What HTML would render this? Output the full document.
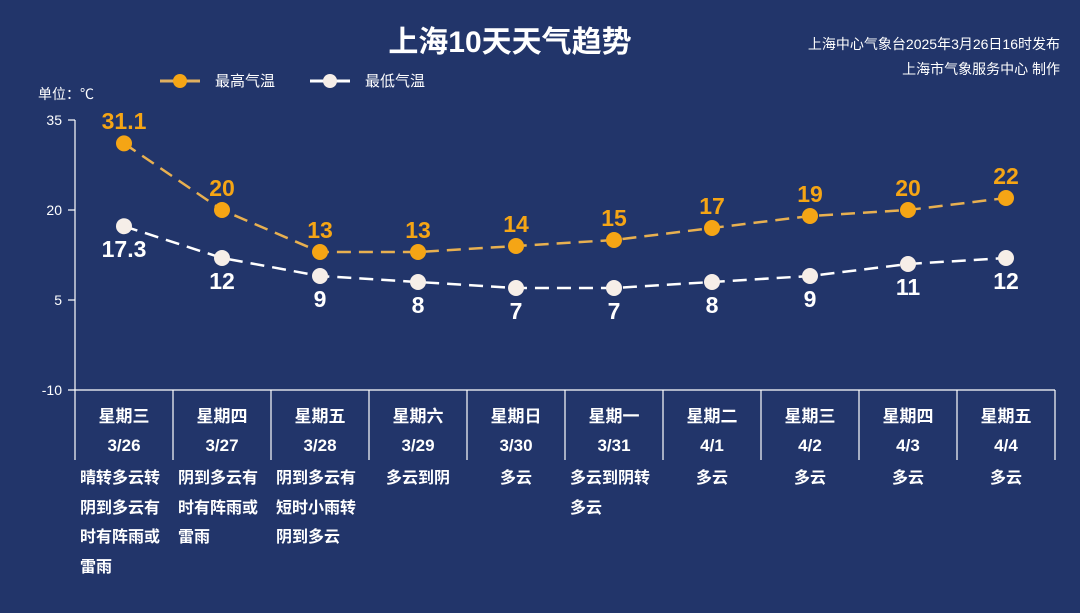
<!DOCTYPE html><html><head><meta charset="utf-8"><style>
body{margin:0;width:1080px;height:613px;background:#22356a;overflow:hidden;font-family:"Liberation Sans","Noto Sans CJK SC",sans-serif;}
svg{position:absolute;left:0;top:0}
text{font-family:"Liberation Sans","Noto Sans CJK SC",sans-serif}
.d{position:absolute;top:462px;width:88px;color:#fff;font-weight:bold;font-size:16px;line-height:29.5px;font-family:"Noto Sans CJK SC",sans-serif}
</style></head><body>
<svg width="1080" height="613">
<text x="510" y="52" fill="#fff" font-size="30" font-weight="bold" text-anchor="middle">上海10天天气趋势</text>
<text x="1060" y="49" fill="#fff" font-size="14" text-anchor="end">上海中心气象台2025年3月26日16时发布</text>
<text x="1060" y="74" fill="#fff" font-size="14" text-anchor="end">上海市气象服务中心 制作</text>
<line x1="160" y1="81" x2="200" y2="81" stroke="#e0b060" stroke-width="3"/><circle cx="180" cy="81" r="7" fill="#f5a515"/>
<text x="215" y="86" fill="#fff" font-size="15">最高气温</text>
<line x1="310" y1="81" x2="350" y2="81" stroke="#fff" stroke-width="3"/><circle cx="330" cy="81" r="7" fill="#f6eee8"/>
<text x="365" y="86" fill="#fff" font-size="15">最低气温</text>
<text x="38" y="99" fill="#fff" font-size="14" font-family="Noto Sans CJK SC, sans-serif">单位：℃</text>
<g stroke="#fff" stroke-width="1.2">
<line x1="75" y1="120" x2="75" y2="460"/><line x1="68" y1="120" x2="75" y2="120"/><line x1="68" y1="210" x2="75" y2="210"/><line x1="68" y1="300" x2="75" y2="300"/>
<line x1="68" y1="390" x2="1055" y2="390"/>
<line x1="173" y1="390" x2="173" y2="460"/><line x1="271" y1="390" x2="271" y2="460"/><line x1="369" y1="390" x2="369" y2="460"/><line x1="467" y1="390" x2="467" y2="460"/><line x1="565" y1="390" x2="565" y2="460"/><line x1="663" y1="390" x2="663" y2="460"/><line x1="761" y1="390" x2="761" y2="460"/><line x1="859" y1="390" x2="859" y2="460"/><line x1="957" y1="390" x2="957" y2="460"/><line x1="1055" y1="390" x2="1055" y2="460"/>
</g>
<g fill="#fff" font-size="14" text-anchor="end"><text x="62" y="125">35</text><text x="62" y="215">20</text><text x="62" y="305">5</text><text x="62" y="395">-10</text></g>
<polyline points="124,143.4 222,210 320,252 418,252 516,246 614,240 712,228 810,216 908,210 1006,198" fill="none" stroke="#e8b050" stroke-width="2.5" stroke-dasharray="14,8"/>
<polyline points="124,226.2 222,258 320,276 418,282 516,288 614,288 712,282 810,276 908,264 1006,258" fill="none" stroke="#fff" stroke-width="2.5" stroke-dasharray="14,8"/>
<g fill="#f5a515"><circle cx="124" cy="143.4" r="8"/><circle cx="222" cy="210" r="8"/><circle cx="320" cy="252" r="8"/><circle cx="418" cy="252" r="8"/><circle cx="516" cy="246" r="8"/><circle cx="614" cy="240" r="8"/><circle cx="712" cy="228" r="8"/><circle cx="810" cy="216" r="8"/><circle cx="908" cy="210" r="8"/><circle cx="1006" cy="198" r="8"/></g>
<g fill="#f6eee8"><circle cx="124" cy="226.2" r="8"/><circle cx="222" cy="258" r="8"/><circle cx="320" cy="276" r="8"/><circle cx="418" cy="282" r="8"/><circle cx="516" cy="288" r="8"/><circle cx="614" cy="288" r="8"/><circle cx="712" cy="282" r="8"/><circle cx="810" cy="276" r="8"/><circle cx="908" cy="264" r="8"/><circle cx="1006" cy="258" r="8"/></g>
<g fill="#f5a515" font-size="23" font-weight="bold" text-anchor="middle">
<text x="124" y="129">31.1</text><text x="222" y="196">20</text><text x="320" y="238">13</text><text x="418" y="238">13</text><text x="516" y="232">14</text><text x="614" y="226">15</text><text x="712" y="214">17</text><text x="810" y="202">19</text><text x="908" y="196">20</text><text x="1006" y="184">22</text></g>
<g fill="#fff" font-size="23" font-weight="bold" text-anchor="middle">
<text x="124" y="257">17.3</text><text x="222" y="289">12</text><text x="320" y="307">9</text><text x="418" y="313">8</text><text x="516" y="319">7</text><text x="614" y="319">7</text><text x="712" y="313">8</text><text x="810" y="307">9</text><text x="908" y="295">11</text><text x="1006" y="289">12</text></g>
<g fill="#fff" font-size="17" font-weight="bold" text-anchor="middle">
<text x="124" y="422">星期三</text><text x="124" y="451">3/26</text>
<text x="222" y="422">星期四</text><text x="222" y="451">3/27</text>
<text x="320" y="422">星期五</text><text x="320" y="451">3/28</text>
<text x="418" y="422">星期六</text><text x="418" y="451">3/29</text>
<text x="516" y="422">星期日</text><text x="516" y="451">3/30</text>
<text x="614" y="422">星期一</text><text x="614" y="451">3/31</text>
<text x="712" y="422">星期二</text><text x="712" y="451">4/1</text>
<text x="810" y="422">星期三</text><text x="810" y="451">4/2</text>
<text x="908" y="422">星期四</text><text x="908" y="451">4/3</text>
<text x="1006" y="422">星期五</text><text x="1006" y="451">4/4</text>
</g>
</svg>
<div class="d" style="left:80px">晴转多云转阴到多云有时有阵雨或雷雨</div>
<div class="d" style="left:178px">阴到多云有时有阵雨或雷雨</div>
<div class="d" style="left:276px">阴到多云有短时小雨转阴到多云</div>
<div class="d" style="left:374px;text-align:center">多云到阴</div>
<div class="d" style="left:472px;text-align:center">多云</div>
<div class="d" style="left:570px">多云到阴转多云</div>
<div class="d" style="left:668px;text-align:center">多云</div>
<div class="d" style="left:766px;text-align:center">多云</div>
<div class="d" style="left:864px;text-align:center">多云</div>
<div class="d" style="left:962px;text-align:center">多云</div>
</body></html>
